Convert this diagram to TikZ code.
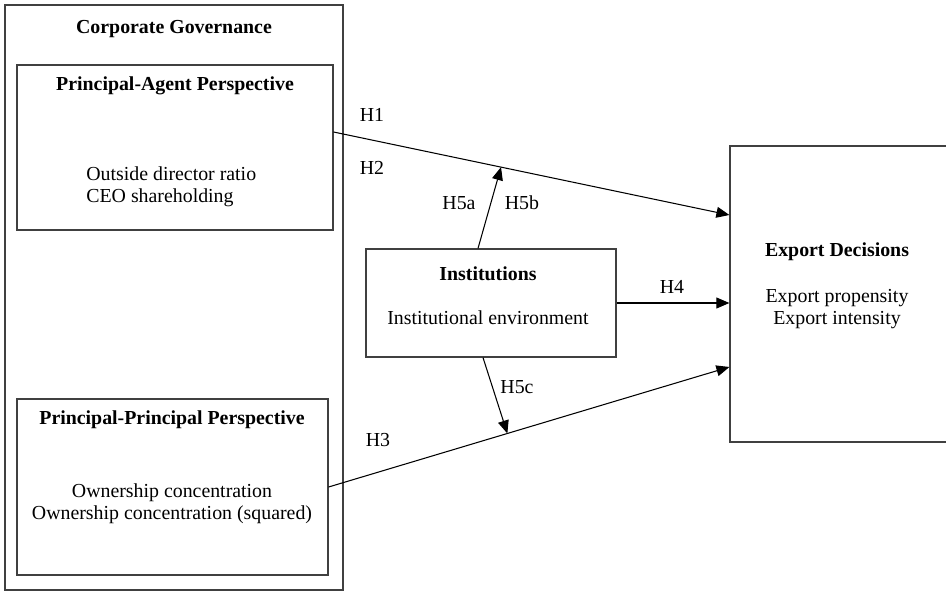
\documentclass[tikz,border=0pt]{standalone}
\usepackage{fontspec}
\setmainfont{Liberation Serif}
\usetikzlibrary{arrows.meta,positioning,calc}

\begin{document}
\begin{tikzpicture}[
  x=0.02cm, y=-0.02cm,
  varbox/.style={rectangle,draw=black!75,line width=0.7pt,inner sep=0pt},
  headtxt/.style={font=\fontsize{11.3}{12.5}\selectfont\bfseries,inner sep=0pt},
  bodytxt/.style={font=\fontsize{11.3}{12.6}\selectfont,inner sep=0pt},
  hlabel/.style={font=\fontsize{11.3}{12.5}\selectfont,inner sep=0pt},
  arr/.style={-{Triangle[length=7.4pt,width=6.2pt]},line width=0.6pt}
]
\useasboundingbox (0,0) rectangle (946,591);

% boxes
\node[varbox,minimum width=6.76cm,minimum height=11.7cm] (gov) at (174,297.5) {};
\node[varbox,minimum width=6.32cm,minimum height=3.3cm] (pa) at (175,147.5) {};
\node[varbox,minimum width=6.22cm,minimum height=3.52cm] (pp) at (172.5,487) {};
\node[varbox,minimum width=5cm,minimum height=2.16cm] (inst) at (491,303) {};
\node[varbox,minimum width=4.36cm,minimum height=5.92cm] (ex) at (839,294) {};

% box texts
\node[headtxt] (govt) at (174,29) {Corporate Governance};
\node[headtxt] (pat) at (175,86) {Principal-Agent Perspective};
\node[bodytxt,anchor=west,align=left] (pab) at (86,187)
  {Outside director ratio\\CEO shareholding};
\node[headtxt] (ppt) at (172,420) {Principal-Principal Perspective};
\node[bodytxt,align=center] (ppb) at (172,504)
  {Ownership concentration\\Ownership concentration (squared)};
\node[headtxt] (instt) at (488,274) {Institutions};
\node[bodytxt] (instb) at (488,318) {Institutional environment};
\node[headtxt] (ext) at (837,252) {Export Decisions};
\node[bodytxt,align=center] (exb) at (837,309) {Export propensity\\Export intensity};

% connectors
\draw[arr] ([yshift=0.31cm]pa.east) -- ([yshift=1.58cm]ex.west)
  coordinate[pos=0.423] (mid1);
\draw[arr] (pp.east) -- ([yshift=-1.46cm]ex.west)
  coordinate[pos=0.446] (mid2);
\draw[arr] (inst.east) -- (inst.east -| ex.west);
\draw[arr] ([xshift=-0.26cm]inst.north) -- (mid1);
\draw[arr] ([xshift=-0.16cm]inst.south) -- (mid2);

% hypothesis labels
\node[hlabel] (h1) at (372,115) {H1};
\node[hlabel] (h2) at (372,168) {H2};
\node[hlabel] (h5a) at (459,203) {H5a};
\node[hlabel] (h5b) at (522,203) {H5b};
\node[hlabel] (h4) at (672,287) {H4};
\node[hlabel] (h5c) at (517,387) {H5c};
\node[hlabel] (h3) at (378,440) {H3};

\end{tikzpicture}
\end{document}
